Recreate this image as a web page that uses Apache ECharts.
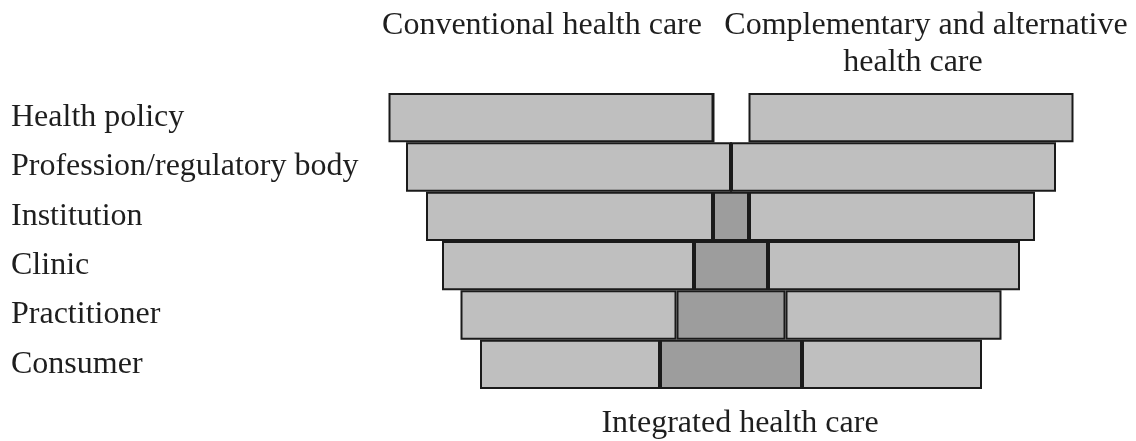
<!DOCTYPE html>
<html><head><meta charset="utf-8">
<script src="https://cdn.jsdelivr.net/npm/echarts@6/dist/echarts.min.js"></script>
<style>html,body{margin:0;padding:0;background:#fff}#c{width:1136px;height:441px}</style>
</head><body><div id="c"></div>
<script>
const levels = ['Health policy','Profession/regulatory body','Institution','Clinic','Practitioner','Consumer'];
const conventional = [325, 325, 287, 252, 216, 180];
const integrated   = [0, 0, 36, 74, 109, 142];
const separation   = [35, 0, 0, 0, 0, 0];
const complementary= [325, 325, 286, 252, 216, 180];
const centre = 731;
const offset = levels.map((_, i) => centre - conventional[i] - (integrated[i] + separation[i]) / 2);

const FONT = '"Liberation Serif", "DejaVu Serif", serif';
const SIZE = 32;
const light = '#bfbfbf', dark = '#9d9d9d', edge = '#1a1a1a';
const barStyle = (c) => ({ color: c, borderColor: edge, borderWidth: 2 });

const chart = echarts.init(document.getElementById('c'), null, { renderer: 'canvas' });
chart.setOption({
  animation: false,
  backgroundColor: '#fff',
  grid: { left: 0, right: 0, top: 93, bottom: 52 },
  xAxis: { type: 'value', min: 0, max: 1136, show: false },
  yAxis: {
    type: 'category', data: levels, inverse: true,
    axisLine: { show: false }, axisTick: { show: false }, splitLine: { show: false },
    axisLabel: { align: 'left', margin: -11, fontFamily: FONT, fontSize: SIZE, color: '#1e1e1e' }
  },
  series: [
    { type: 'bar', stack: 's', data: offset, itemStyle: { color: 'transparent' }, barCategoryGap: 0, silent: true },
    { name: 'Conventional health care', type: 'bar', stack: 's', data: conventional, itemStyle: barStyle(light) },
    { name: 'Integrated health care', type: 'bar', stack: 's', data: integrated, itemStyle: barStyle(dark) },
    { type: 'bar', stack: 's', data: separation, itemStyle: { color: 'transparent' }, silent: true },
    { name: 'Complementary and alternative health care', type: 'bar', stack: 's', data: complementary, itemStyle: barStyle(light) }
  ],
  graphic: [
    { type: 'text', style: { text: 'Conventional health care', x: 542, y: 26, textAlign: 'center', textVerticalAlign: 'middle', font: SIZE + 'px ' + FONT, fill: '#1e1e1e' } },
    { type: 'text', style: { text: 'Complementary and alternative', x: 926, y: 26, textAlign: 'center', textVerticalAlign: 'middle', font: SIZE + 'px ' + FONT, fill: '#1e1e1e' } },
    { type: 'text', style: { text: 'health care', x: 913, y: 63, textAlign: 'center', textVerticalAlign: 'middle', font: SIZE + 'px ' + FONT, fill: '#1e1e1e' } },
    { type: 'text', style: { text: 'Integrated health care', x: 740, y: 424, textAlign: 'center', textVerticalAlign: 'middle', font: SIZE + 'px ' + FONT, fill: '#1e1e1e' } }
  ]
});
</script></body></html>
